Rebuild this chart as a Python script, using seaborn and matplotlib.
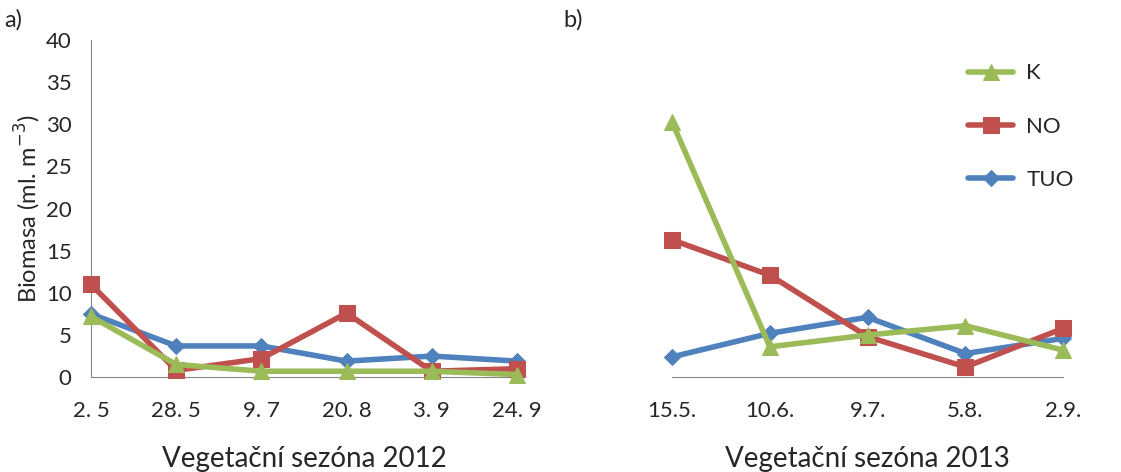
import numpy as np
import pandas as pd
import matplotlib
matplotlib.use("Agg")
import matplotlib.pyplot as plt
import seaborn as sns

# data
dates_2012 = ["2. 5", "28. 5", "9. 7", "20. 8", "3. 9", "24. 9"]
k_2012 = [7.2, 1.5, 0.7, 0.7, 0.7, 0.3]
no_2012 = [11.0, 0.8, 2.2, 7.6, 0.7, 1.0]
tuo_2012 = [7.5, 3.7, 3.7, 1.9, 2.5, 1.9]

dates_2013 = ["15.5.", "10.6.", "9.7.", "5.8.", "2.9."]
k_2013 = [30.3, 3.6, 5.0, 6.1, 3.2]
no_2013 = [16.3, 12.1, 4.8, 1.2, 5.8]
tuo_2013 = [2.4, 5.2, 7.1, 2.8, 4.6]

series = ["K", "NO", "TUO"]
colors = {"K": "#9BBB59", "NO": "#C0504D", "TUO": "#4F81BD"}
markers = {"K": "^", "NO": "s", "TUO": "D"}
msizes = {"K": 11, "NO": 12, "TUO": 8}

sns.set_style("white")
plt.rcParams["font.family"] = ["Lato", "DejaVu Sans"]

fig = plt.figure(figsize=(11.21, 4.72), dpi=100)
ax1 = fig.add_axes([0.0812, 0.201, 0.3800, 0.714])
ax2 = fig.add_axes([0.5995, 0.201, 0.3490, 0.714], sharey=ax1)


def draw(ax, dates, vals):
    x = np.arange(len(dates))
    # TUO drawn first so NO and K sit on top, like the reference
    for name in ["TUO", "NO", "K"]:
        df = pd.DataFrame({"x": x, "y": vals[name]})
        sns.lineplot(data=df, x="x", y="y", ax=ax, color=colors[name],
                     marker=markers[name], markersize=msizes[name],
                     markeredgecolor=colors[name], linewidth=4,
                     label=name, clip_on=False, zorder=3)
    ax.set_xlim(0, len(dates) - 1)
    ax.set_xticks(x)
    ax.set_xticklabels(dates)
    ax.tick_params(axis="x", direction="inout", length=10, width=1,
                   color="#868686", pad=12, labelsize=16)
    for s in ["top", "right"]:
        ax.spines[s].set_visible(False)
    ax.spines["bottom"].set_color("#868686")
    ax.spines["left"].set_color("#868686")
    ax.legend_.remove()


draw(ax1, dates_2012, {"K": k_2012, "NO": no_2012, "TUO": tuo_2012})
draw(ax2, dates_2013, {"K": k_2013, "NO": no_2013, "TUO": tuo_2013})

ax1.set_ylim(0, 40)
ax1.set_yticks(range(0, 41, 5))
ax1.tick_params(axis="y", length=0, pad=14, labelsize=16)
ax1.set_ylabel("Biomasa (ml. m$^{-3}$)", fontsize=17, labelpad=2)
ax1.set_xlabel("Vegetační sezóna 2012", fontsize=20, labelpad=18)

ax2.spines["left"].set_visible(False)
ax2.tick_params(axis="y", left=False, labelleft=False)
ax2.set_ylabel("")
ax2.set_xlabel("Vegetační sezóna 2013", fontsize=20, labelpad=18)

handles, labels = ax2.get_legend_handles_labels()
order = [labels.index(n) for n in series]
fig.legend([handles[i] for i in order], series, loc="upper left",
           bbox_to_anchor=(0.846, 0.908), frameon=False, fontsize=16,
           labelspacing=1.5, handlelength=2.0, handletextpad=0.6)

fig.text(0.004, 0.958, "a)", fontsize=17, va="center")
fig.text(0.503, 0.958, "b)", fontsize=17, va="center")

fig.savefig("out.png", dpi=100)
